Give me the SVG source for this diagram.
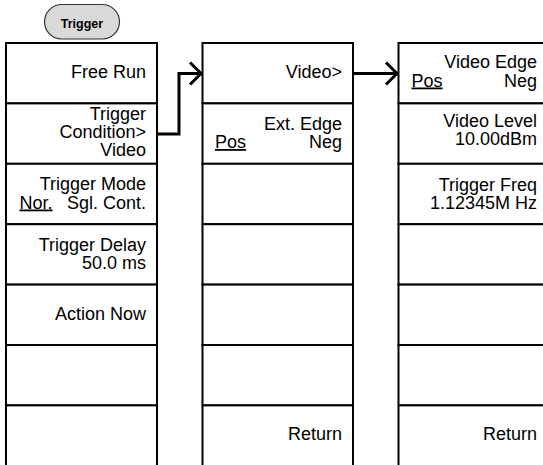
<svg xmlns="http://www.w3.org/2000/svg" width="543" height="465" viewBox="0 0 543 465">
<style>
.cell{fill:#fff;stroke:#000;stroke-width:2}
.t{font-family:"Liberation Sans",Arial,sans-serif;font-size:18px;fill:#000}
.r{text-anchor:end}
.u{text-decoration:underline}
.conn{fill:none;stroke:#000;stroke-width:3}
</style>
<defs>
<marker id="chev" markerUnits="userSpaceOnUse" markerWidth="30" markerHeight="30" viewBox="-15 -15 30 30" refX="0" refY="0" orient="auto">
<path d="M-11,-11 L0,0 L-11,11" fill="none" stroke="#000" stroke-width="3"/>
</marker>
</defs>
<rect width="543" height="465" fill="#fff"/>

<g id="trigger-key">
<rect x="44.5" y="4.5" width="75" height="34.5" rx="17.25" fill="#d9d9d9" stroke="#333" stroke-width="1.2"/>
<text x="82" y="27.5" text-anchor="middle" font-family="'Liberation Sans',Arial,sans-serif" font-size="12.5" font-weight="bold" fill="#000">Trigger</text>
</g>

<g id="col1">
<g id="c1r0"><rect class="cell" x="6" y="43" width="151" height="60.4"/><text class="t r" x="146" y="78">Free Run</text></g>
<g id="c1r1"><rect class="cell" x="6" y="103.4" width="151" height="60.4"/><text class="t r" x="146" y="120">Trigger</text><text class="t r" x="146" y="138">Condition&gt;</text><text class="t r" x="146" y="156">Video</text></g>
<g id="c1r2"><rect class="cell" x="6" y="163.8" width="151" height="60.4"/><text class="t r" x="146" y="190">Trigger Mode</text><text class="t u" x="19.5" y="208.5">Nor.</text><text class="t r" x="146" y="208.5">Sgl. Cont.</text></g>
<g id="c1r3"><rect class="cell" x="6" y="224.2" width="151" height="60.4"/><text class="t r" x="146" y="250.5">Trigger Delay</text><text class="t r" x="146" y="268.5">50.0 ms</text></g>
<g id="c1r4"><rect class="cell" x="6" y="284.6" width="151" height="60.4"/><text class="t r" x="146" y="320">Action Now</text></g>
<g id="c1r5"><rect class="cell" x="6" y="345" width="151" height="60.4"/></g>
<g id="c1r6"><rect class="cell" x="6" y="405.4" width="151" height="66"/></g>
</g>

<g id="col2">
<g id="c2r0"><rect class="cell" x="202.5" y="43" width="150.5" height="60.4"/><text class="t r" x="342" y="78">Video&gt;</text></g>
<g id="c2r1"><rect class="cell" x="202.5" y="103.4" width="150.5" height="60.4"/><text class="t r" x="342" y="129.5">Ext. Edge</text><text class="t u" x="215" y="148">Pos</text><text class="t r" x="342" y="148">Neg</text></g>
<g id="c2r2"><rect class="cell" x="202.5" y="163.8" width="150.5" height="60.4"/></g>
<g id="c2r3"><rect class="cell" x="202.5" y="224.2" width="150.5" height="60.4"/></g>
<g id="c2r4"><rect class="cell" x="202.5" y="284.6" width="150.5" height="60.4"/></g>
<g id="c2r5"><rect class="cell" x="202.5" y="345" width="150.5" height="60.4"/></g>
<g id="c2r6"><rect class="cell" x="202.5" y="405.4" width="150.5" height="66"/><text class="t r" x="342" y="440">Return</text></g>
</g>

<g id="col3">
<g id="c3r0"><rect class="cell" x="398.5" y="43" width="150.5" height="60.4"/><text class="t r" x="537" y="68">Video Edge</text><text class="t u" x="411.5" y="86.5">Pos</text><text class="t r" x="537" y="86.5">Neg</text></g>
<g id="c3r1"><rect class="cell" x="398.5" y="103.4" width="150.5" height="60.4"/><text class="t r" x="537" y="127">Video Level</text><text class="t r" x="537" y="145">10.00dBm</text></g>
<g id="c3r2"><rect class="cell" x="398.5" y="163.8" width="150.5" height="60.4"/><text class="t r" x="537" y="191">Trigger Freq</text><text class="t r" x="537" y="208.5">1.12345M Hz</text></g>
<g id="c3r3"><rect class="cell" x="398.5" y="224.2" width="150.5" height="60.4"/></g>
<g id="c3r4"><rect class="cell" x="398.5" y="284.6" width="150.5" height="60.4"/></g>
<g id="c3r5"><rect class="cell" x="398.5" y="345" width="150.5" height="60.4"/></g>
<g id="c3r6"><rect class="cell" x="398.5" y="405.4" width="150.5" height="66"/><text class="t r" x="537" y="440">Return</text></g>
</g>

<g id="connectors">
<path class="conn" d="M157,134 H179 V73.5 H201" marker-end="url(#chev)"/>
<path class="conn" d="M353,73.5 H397" marker-end="url(#chev)"/>
</g>
</svg>
